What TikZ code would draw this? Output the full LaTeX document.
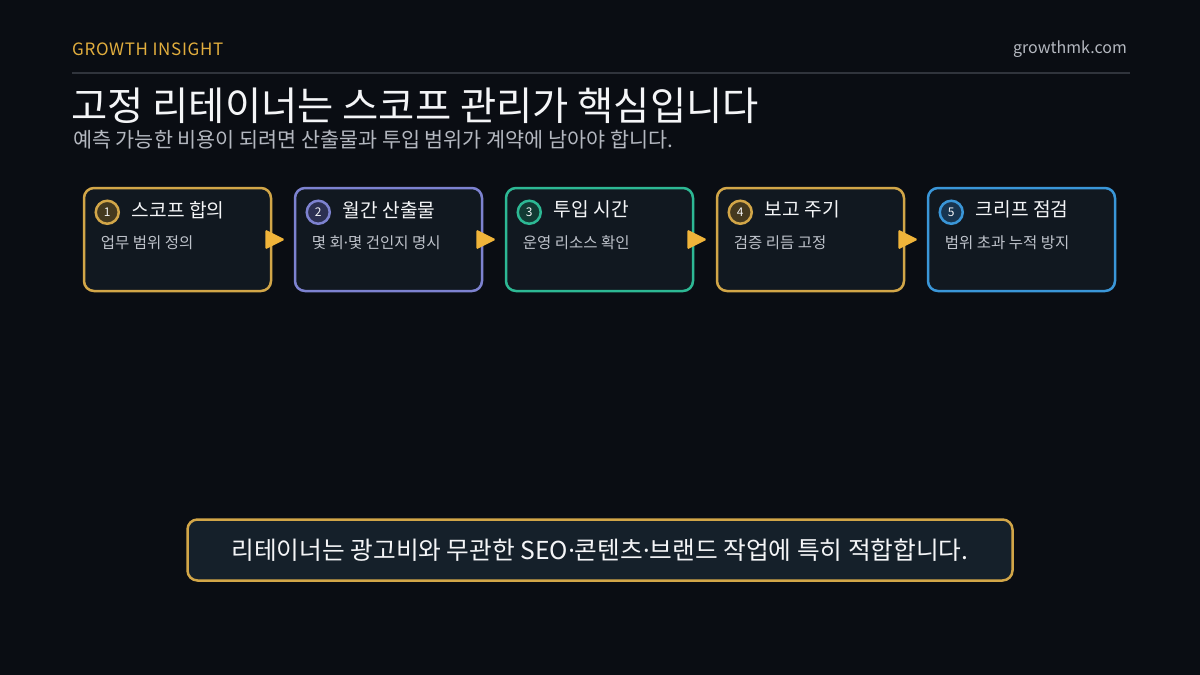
\documentclass[tikz,border=0pt]{standalone}
\usepackage{fontspec}
\setmainfont{Noto Sans CJK KR}
\newfontfamily\latinf{Noto Sans}
\newfontfamily\kickerf[LetterSpace=4]{Noto Sans CJK KR}
\newcommand\kdot{{\latinf ·}}
\usetikzlibrary{calc}
\definecolor{bg}{HTML}{0A0D13}
\definecolor{cardfill}{HTML}{111820}
\definecolor{notefill}{HTML}{15202A}
\definecolor{gold}{HTML}{D2A648}
\definecolor{goldtxt}{HTML}{E2AE3E}
\definecolor{arrowc}{HTML}{F0B43A}
\definecolor{purp}{HTML}{7D82D0}
\definecolor{teal}{HTML}{2DB894}
\definecolor{blue}{HTML}{3A96D8}
\definecolor{goldin}{HTML}{44391F}
\definecolor{purpin}{HTML}{2C3052}
\definecolor{tealin}{HTML}{123A33}
\definecolor{bluein}{HTML}{183550}
\definecolor{rulec}{HTML}{30343C}
\definecolor{subtxt}{HTML}{B4B8C0}
\definecolor{desctxt}{HTML}{BEC2CA}
\definecolor{titletxt}{HTML}{F4F5F7}
\begin{document}
\begin{tikzpicture}[x=1pt,y=-1pt,
  card/.style={draw=#1, line width=2.5pt, rounded corners=10pt, fill=cardfill,
    minimum width=187pt, minimum height=103pt, inner sep=0pt},
  numc/.style={circle, draw=#1, line width=2.5pt, minimum size=23pt, inner sep=0pt,
    font=\fontsize{12}{12}\selectfont, text=titletxt},
  ctitle/.style={anchor=west, inner sep=0pt, text=titletxt, font=\fontsize{19.2}{22}\selectfont},
  cdesc/.style={anchor=west, inner sep=0pt, text=desctxt, font=\fontsize{15.5}{18}\selectfont},
  tri/.style={fill=arrowc, rounded corners=1.5pt}
]
\useasboundingbox (0,0) rectangle (1200,675);
\fill[bg] (0,0) rectangle (1200,675);

% header
\node[anchor=west, inner sep=0pt, text=goldtxt, font=\kickerf\fontsize{17}{19}\selectfont] (kicker) at (72,49) {GROWTH INSIGHT};
\node[anchor=east, inner sep=0pt, text=subtxt, font=\fontsize{16}{18}\selectfont] (site) at (1127,49) {growthmk.com};
\coordinate (rl) at (72,73);
\coordinate (rr) at (1130,73);
\draw[rulec, line width=2pt] (rl) -- (rr);

\node[anchor=west, inner sep=0pt, text=titletxt, font=\fontsize{39.4}{44}\selectfont] (title) at (71,106) {고정 리테이너는 스코프 관리가 핵심입니다};
\node[anchor=west, inner sep=0pt, text=subtxt, font=\fontsize{20.7}{24}\selectfont] (subtitle) at (73,140) {예측 가능한 비용이 되려면 산출물과 투입 범위가 계약에 남아야 합니다.};

% cards
\foreach \i/\cx/\col/\inn/\ti/\de in {
  1/177.5/gold/goldin/스코프 합의/업무 범위 정의,
  2/388.5/purp/purpin/월간 산출물/몇 회\kdot 몇 건인지 명시,
  3/599.5/teal/tealin/투입 시간/운영 리소스 확인,
  4/810.5/gold/goldin/보고 주기/검증 리듬 고정,
  5/1021.5/blue/bluein/크리프 점검/범위 초과 누적 방지}{
  \node[card=\col] (b\i) at (\cx,239.5) {};
  \node[numc=\col, fill=\inn] (n\i) at ($(b\i.north west)+(24.5,25.5)$) {\i};
  \node[ctitle] (t\i) at ($(b\i.north west)+(49,23)$) {\ti};
  \node[cdesc] (d\i) at ($(b\i.north west)+(18,56)$) {\de};
}

% arrows between cards
\foreach \a/\b in {1/2,2/3,3/4,4/5}{
  \fill[tri] ($(b\a.east)+(-7,-10)$) -- ($(b\a.east)!0.55!(b\b.west)+(1,0)$) -- ($(b\a.east)+(-7,10)$) -- cycle;
}

% bottom note
\node[draw=gold, line width=2.5pt, rounded corners=10pt, fill=notefill,
  minimum width=825pt, minimum height=61pt, inner sep=0pt,
  text=titletxt, font=\fontsize{24.7}{28}\selectfont] (note) at (600,550)
  {리테이너는 광고비와 무관한 SEO\kdot 콘텐츠\kdot 브랜드 작업에 특히 적합합니다.};
\end{tikzpicture}
\end{document}
